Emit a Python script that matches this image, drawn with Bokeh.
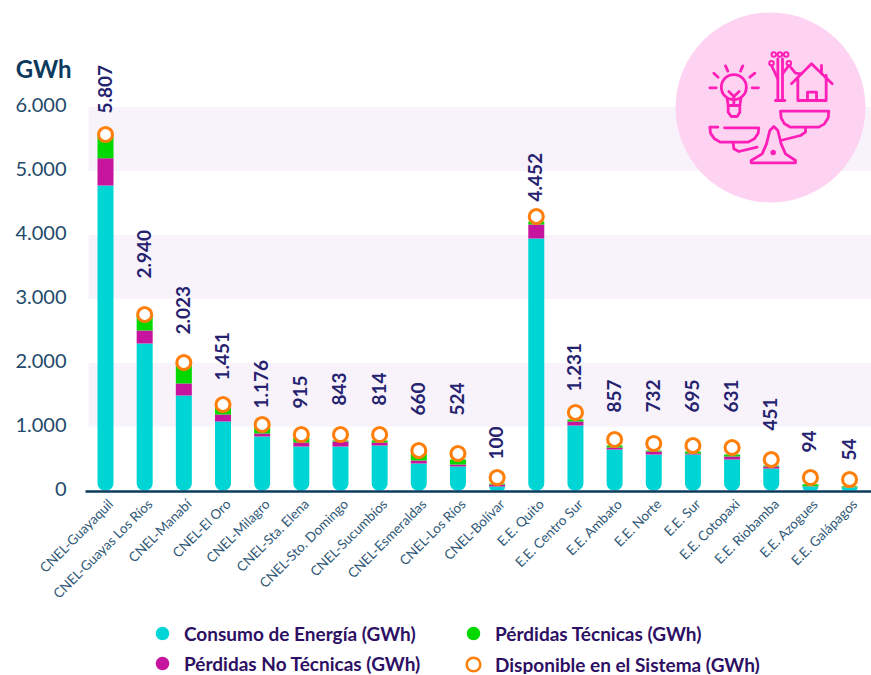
import math
import numpy as np
from bokeh.core.properties import value
from bokeh.embed import file_html
from bokeh.layouts import column
from bokeh.models import ColumnDataSource, FixedTicker, Legend, LegendItem, LinearAxis, Range1d
from bokeh.plotting import figure
from bokeh.resources import INLINE

categories = ["CNEL-Guayaquil", "CNEL-Guayas Los Ríos", "CNEL-Manabí", "CNEL-El Oro", "CNEL-Milagro",
              "CNEL-Sta. Elena", "CNEL-Sto. Domingo", "CNEL-Sucumbíos", "CNEL-Esmeraldas", "CNEL-Los Ríos",
              "CNEL-Bolívar", "E.E. Quito", "E.E. Centro Sur", "E.E. Ambato", "E.E. Norte", "E.E. Sur",
              "E.E. Cotopaxi", "E.E. Riobamba", "E.E. Azogues", "E.E. Galápagos"]
consumo = [4773, 2300, 1487, 1080, 845, 689, 689, 704, 423, 376, 63, 3944, 1017, 642, 563, 563, 485, 344, 63, 47]
no_tecnicas = [427, 203, 188, 110, 47, 63, 78, 47, 47, 31, 31, 219, 63, 31, 47, 16, 47, 31, 5, 3]
tecnicas = [355, 250, 329, 141, 125, 78, 16, 31, 110, 78, 16, 47, 31, 31, 16, 31, 31, 16, 31, 16]
disponible = [5571, 2754, 2003, 1346, 1033, 876, 876, 876, 626, 579, 203, 4288, 1221, 798, 736, 704, 673, 485, 203, 172]
etiquetas = ["5.807", "2.940", "2.023", "1.451", "1.176", "915", "843", "814", "660", "524", "100",
             "4.452", "1.231", "857", "732", "695", "631", "451", "94", "54"]
y_ticks = [0, 1000, 2000, 3000, 4000, 5000, 6000]
y_tick_labels = ["0", "1.000", "2.000", "3.000", "4.000", "5.000", "6.000"]
bandas = [1000, 3000, 5000]
legend_labels = ["Consumo de Energía (GWh)", "Pérdidas No Técnicas (GWh)",
                 "Pérdidas Técnicas (GWh)", "Disponible en el Sistema (GWh)"]

# label lift above the marker, in pixels
label_gap = [21, 36, 28, 24, 16, 26, 29, 29, 35, 38, 18, 15, 21, 27, 31, 33, 35, 29, 25, 19]

CYAN, MAGENTA, GREEN, ORANGE = "#00d5d5", "#c6149e", "#00d800", "#ff7f0a"
NAVY, AXIS, TICK, LEG = "#25226f", "#0b3a5e", "#2f5877", "#2d0f63"
FONT = "Lato"
PX_PER_GWH = 0.0639

x = np.arange(len(categories))
c = np.array(consumo, float)
n = np.array(no_tecnicas, float)
t = np.array(tecnicas, float)
src = ColumnDataSource(dict(x=x, c=c, n0=c, n1=c + n, t0=c + n, t1=c + n + t,
                            d=disponible, lab=etiquetas, off=[-g for g in label_gap]))

p = figure(width=871, height=611, frame_width=786, frame_height=491,
           x_range=Range1d(-0.511, 19.56), y_range=Range1d(-1 / PX_PER_GWH, 490 / PX_PER_GWH),
           output_backend="svg", toolbar_location=None,
           min_border_left=85, min_border_right=0, min_border_top=0, min_border_bottom=0,
           outline_line_color=None, background_fill_color="white", border_fill_color="white")
p.extra_x_ranges["px"] = Range1d(85, 871)
p.extra_y_ranges["px"] = Range1d(491, 0)
p.grid.visible = False

# bands
p.quad(left=88, right=871, bottom=bandas, top=[b + 1000 for b in bandas], x_range_name="px",
       fill_color="#f8f3fb", line_color=None, level="underlay")

# bars
W = 16 / 39.16
p.vbar(x="x", width=W, bottom=0, top="c", source=src, fill_color=CYAN, line_color=None,
       border_radius=(0, 0, 7, 7))
p.vbar(x="x", width=W, bottom="n0", top="n1", source=src, fill_color=MAGENTA, line_color=None)
p.vbar(x="x", width=W, bottom="t0", top="t1", source=src, fill_color=GREEN, line_color=None)
p.scatter(x="x", y="d", source=src, size=14, fill_color="white", line_color=ORANGE, line_width=3.1)

p.text(x="x", y="d", text="lab", source=src, angle=math.pi / 2, text_align="left", text_baseline="middle",
       x_offset=-1, y_offset="off", text_font=value(FONT), text_font_style="bold", text_font_size="19px",
       text_color=NAVY)

# axes; the slanted labels end a little right of the bar centre
LABEL_SHIFT = 0.13
ticks = [float(i) + LABEL_SHIFT for i in x]
ax = p.xaxis[0]
ax.ticker = FixedTicker(ticks=ticks)
ax.major_label_overrides = dict(zip(ticks, categories))
ax.major_label_orientation = math.pi / 4
ax.major_label_text_font = FONT
ax.major_label_text_font_size = "13.5px"
ax.major_label_text_color = TICK
ax.major_label_standoff = 10
ax.major_tick_line_color = None
ax.minor_tick_line_color = None
ax.major_tick_out = 0
ax.major_tick_in = 0
ax.axis_line_color = AXIS
ax.axis_line_width = 2.5

# the tick texts sit 2px above their band edges in the reference
TICK_LIFT = 2 / PX_PER_GWH
y_tick_pos = [v + TICK_LIFT for v in y_ticks]
ay = p.yaxis[0]
ay.ticker = FixedTicker(ticks=y_tick_pos)
ay.major_label_overrides = dict(zip(y_tick_pos, y_tick_labels))
ay.major_label_text_font = FONT
ay.major_label_text_font_size = "20px"
ay.major_label_text_color = "#1f4a6b"
ay.major_label_standoff = 19
ay.major_tick_line_color = None
ay.minor_tick_line_color = None
ay.major_tick_out = 0
ay.major_tick_in = 0
ay.axis_line_color = None

# unit caption, as a second left axis
GWH_POS = (490 - 68) / PX_PER_GWH
unit = LinearAxis(ticker=FixedTicker(ticks=[GWH_POS]), major_label_overrides={GWH_POS: "GWh"},
                  major_label_text_font=FONT, major_label_text_font_style="bold",
                  major_label_text_font_size="24px", major_label_text_color=AXIS,
                  major_label_standoff=-59, major_tick_line_color=None, minor_tick_line_color=None,
                  major_tick_out=0, major_tick_in=0, axis_line_color=None)
p.add_layout(unit, "left")

# icon (decoration, in reference pixels; drawn from zoom coordinates)
def zx(v):
    return 660 + v / 3
def zy(v):
    return 30 + v / 3
def poly(*pts):
    return [zx(a) for a, _ in pts], [zy(b) for _, b in pts]

PINK = "#ff1fb8"
p.scatter([770], [107], x_range_name="px", y_range_name="px", size=190, fill_color="#fed3f2", line_color=None)
shapes = [
    # bulb
    ((200, 205), (203, 225), (238, 225), (241, 205)),
    ((203, 225), (203, 245), (212, 258), (230, 258), (238, 245), (238, 225)),
    ((205, 183), (220, 198), (236, 183)), ((220, 198), (220, 225)),
    ((148, 172), (167, 172)), ((160, 128), (173, 140)), ((195, 106), (202, 122)),
    ((247, 106), (240, 122)), ((283, 128), (268, 140)), ((275, 172), (294, 172)),
    # pole
    ((352, 85), (352, 210)), ((366, 85), (366, 210)), ((345, 210), (373, 210)),
    ((333, 105), (352, 145)), ((385, 105), (366, 130)), ((390, 110), (405, 128), (422, 130)),
    # house
    ((393, 160), (453, 100), (515, 160)), ((483, 105), (483, 128)),
    ((412, 140), (412, 210), (497, 210), (497, 135)), ((441, 210), (441, 185), (468, 185), (468, 210)),
    # scale
    ((360, 242), (505, 242), (503, 262), (492, 280), (475, 290), (390, 290), (372, 280), (362, 262), (360, 242)),
    ((435, 292), (435, 305), (420, 315), (360, 330)),
    ((172, 290), (148, 290), (150, 308), (162, 325), (180, 335), (262, 335), (282, 325), (293, 308), (295, 292), (192, 292)),
    ((218, 337), (220, 355), (235, 363), (290, 350)),
    ((272, 397), (405, 397), (405, 390), (375, 370), (362, 340), (352, 300), (340, 288), (328, 300), (318, 340), (305, 370), (272, 390), (272, 397)),
]
xs, ys = zip(*[poly(*s) for s in shapes])
p.multi_line(list(xs), list(ys), x_range_name="px", y_range_name="px", line_color=PINK, line_width=2.8,
             line_cap="round", line_join="round")
p.scatter([zx(220)], [zy(170)], x_range_name="px", y_range_name="px", size=25, fill_color=None,
          line_color=PINK, line_width=2.8)
p.scatter([zx(v) for v in (340, 358, 377, 333, 385)], [zy(v) for v in (72, 72, 72, 98, 98)],
          x_range_name="px", y_range_name="px", size=4.5, fill_color=None, line_color=PINK, line_width=2)
p.scatter([zx(338)], [zy(366)], x_range_name="px", y_range_name="px", size=5.5, fill_color=PINK, line_color=None)

# legend strip: one small legend per entry, placed independently
q = figure(width=871, height=64, x_range=Range1d(0, 871), y_range=Range1d(0, 64), x_axis_location=None,
           y_axis_location=None, output_backend="svg", toolbar_location=None, outline_line_color=None,
           min_border=0, border_fill_color="white", background_fill_color="white")
q.grid.visible = False
nan = [float("nan")]
r_c = q.scatter(nan, nan, size=14, fill_color=CYAN, line_color=None)
r_n = q.scatter(nan, nan, size=14, fill_color=MAGENTA, line_color=None)
r_t = q.scatter(nan, nan, size=14, fill_color=GREEN, line_color=None)
r_d = q.scatter(nan, nan, size=14, fill_color="white", line_color=ORANGE, line_width=2.5)

def make_legend(label, r, x0, y0):
    leg = Legend(items=[LegendItem(label=value(label), renderers=[r])],
                 location=(x0, y0), orientation="vertical", glyph_width=34, glyph_height=34,
                 label_standoff=5, label_text_font=FONT, label_text_font_style="bold",
                 label_text_font_size="19px", label_text_color=LEG, padding=0, margin=0,
                 border_line_color=None, background_fill_alpha=0, label_height=20)
    q.add_layout(leg, "center")

make_legend(legend_labels[0], r_c, 60, 24)
make_legend(legend_labels[1], r_n, 60, -6)
make_legend(legend_labels[2], r_t, 371, 24)
make_legend(legend_labels[3], r_d, 371, -7)

open("out.html", "w").write(file_html(column(p, q, spacing=0), INLINE))
